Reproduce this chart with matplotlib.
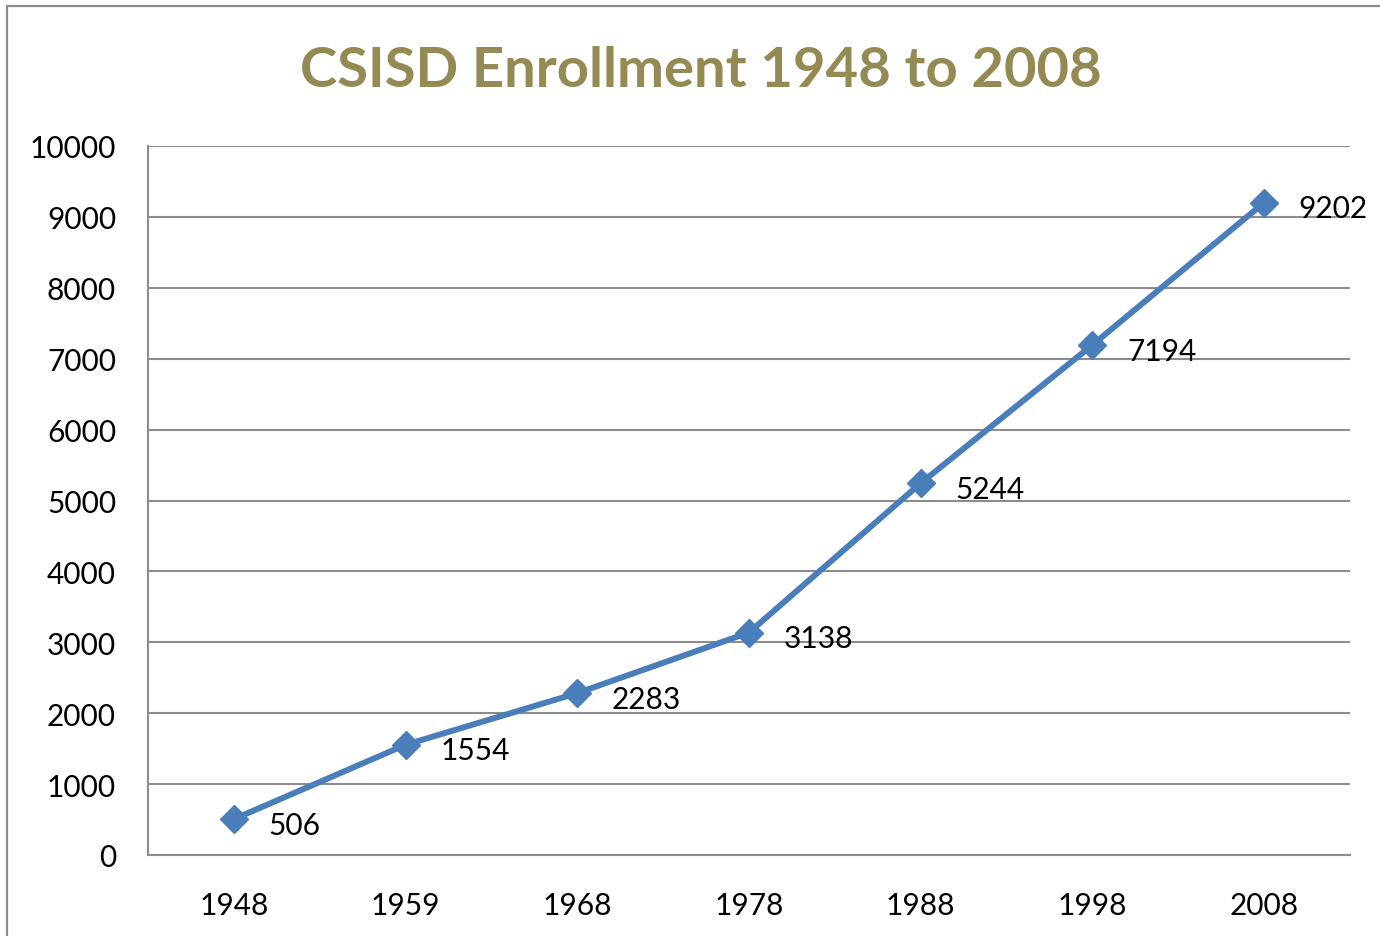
import matplotlib.pyplot as plt
from matplotlib.patches import Rectangle

years = ["1948", "1959", "1968", "1978", "1988", "1998", "2008"]
enrollment = [506, 1554, 2283, 3138, 5244, 7194, 9202]
y_ticks = list(range(0, 10001, 1000))

FONT = "Lato"
GRID = "#8c8c8c"
BLUE = "#4a7ebb"

fig = plt.figure(figsize=(13.8, 9.37), dpi=100)

# outer chart frame (right / bottom edges fall outside the picture)
fig.patches.append(Rectangle((7 / 1380, -0.05), 1.2, 1 - 7 / 937 + 0.05,
                             transform=fig.transFigure, fill=False,
                             edgecolor=GRID, lw=1.6))

ax = fig.add_axes([148 / 1380, 1 - 856 / 937, 1202 / 1380, 709 / 937])

x = list(range(len(years)))
ax.plot(x, enrollment, color=BLUE, lw=4.3, marker="D", markersize=14,
        markerfacecolor=BLUE, markeredgecolor=BLUE, zorder=3)

for xi, v in zip(x, enrollment):
    ax.annotate(str(v), (xi, v), xytext=(25, -4), textcoords="offset points",
                ha="left", va="center", fontsize=21.5, family=FONT,
                color="black", zorder=4)

ax.set_xlim(-0.5, len(years) - 0.5)
ax.set_ylim(0, 10000)
ax.set_xticks(x)
ax.set_xticklabels(years)
ax.set_yticks(y_ticks)
ax.set_yticklabels([str(t) for t in y_ticks])
ax.tick_params(axis="both", length=0, labelsize=21.5)
ax.tick_params(axis="x", pad=26)
ax.tick_params(axis="y", pad=23)
for lab in ax.get_xticklabels() + ax.get_yticklabels():
    lab.set_family(FONT)

ax.grid(axis="y", color=GRID, lw=1.5)
ax.set_axisbelow(True)
for side in ["top", "right"]:
    ax.spines[side].set_visible(False)
for side in ["left", "bottom"]:
    ax.spines[side].set_color(GRID)
    ax.spines[side].set_linewidth(1.5)

fig.text(701 / 1380, 1 - 71 / 937, "CSISD Enrollment 1948 to 2008",
         ha="center", va="center", fontsize=40.5, fontweight="bold",
         family=FONT, color="#948a54")

fig.savefig("out.png", dpi=100)
